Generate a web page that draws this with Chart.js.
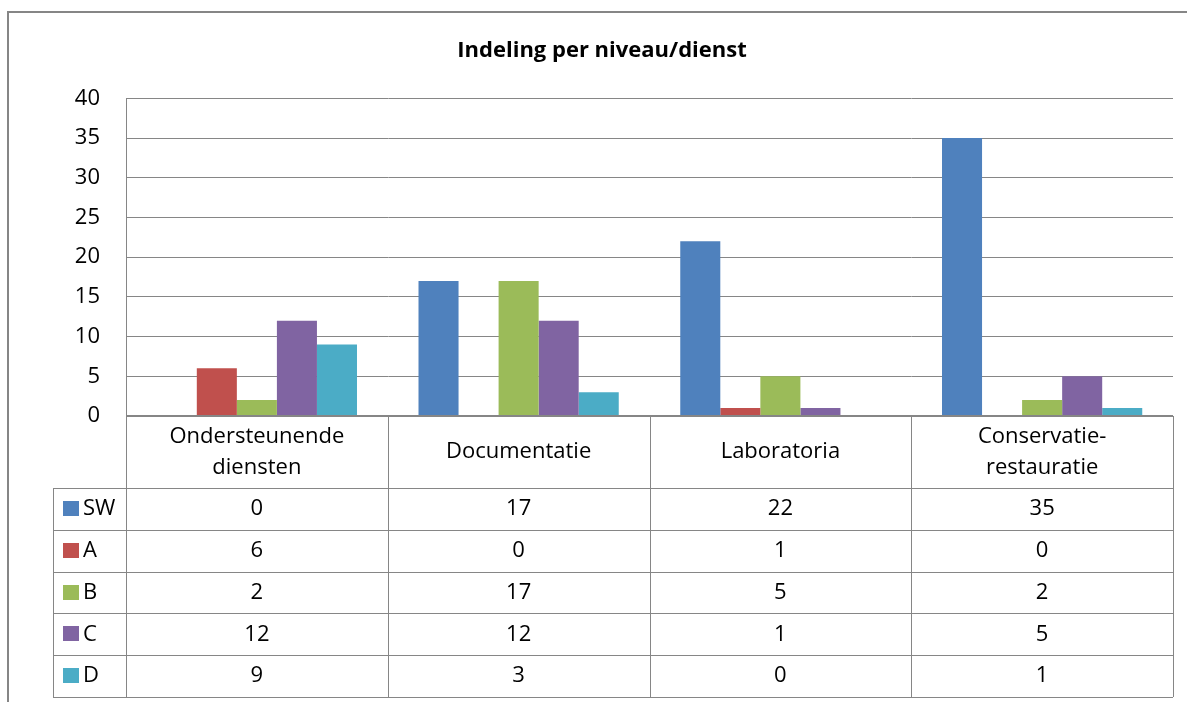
<!DOCTYPE html>
<html>
<head>
<meta charset="utf-8">
<script src="https://cdn.jsdelivr.net/npm/chart.js@4.4.0/dist/chart.umd.min.js"></script>
<style>
  body { margin: 0; background: #fff; }
  canvas { display: block; }
</style>
</head>
<body>
<canvas id="chart" width="1187" height="702"></canvas>
<script>
const categories = [['Ondersteunende', 'diensten'], 'Documentatie', 'Laboratoria', ['Conservatie-', 'restauratie']];
const seriesNames = ['SW', 'A', 'B', 'C', 'D'];
const swValues = [0, 17, 22, 35];
const aValues = [6, 0, 1, 0];
const bValues = [2, 17, 5, 2];
const cValues = [12, 12, 1, 5];
const dValues = [9, 3, 0, 1];
const yTicks = [0, 5, 10, 15, 20, 25, 30, 35, 40];

const colors = ['#4F81BD', '#C0504D', '#9BBB59', '#8064A2', '#4BACC6'];
const gridColor = '#868686';
const fontFamily = "'Open Sans', sans-serif";

// Excel-style data table under the plot, plus the outer frame
const dataTable = {
    id: 'dataTable',
    afterDraw(chart) {
        const ctx = chart.ctx;
        const area = chart.chartArea;
        const colW = area.width / categories.length;
        const headerTop = area.bottom;
        const headerH = 72;
        const rowH = 41.8;
        const keyLeft = 53;
        const tableBottom = headerTop + headerH + rowH * seriesNames.length;

        ctx.save();
        // frame
        ctx.strokeStyle = gridColor;
        ctx.lineWidth = 2;
        ctx.beginPath();
        ctx.moveTo(8, 702);
        ctx.lineTo(8, 12);
        ctx.lineTo(1187, 12);
        ctx.stroke();

        // table grid
        ctx.lineWidth = 1;
        ctx.beginPath();
        for (let i = 0; i <= categories.length; i++) {
            const x = Math.round(area.left + i * colW) + 0.5;
            ctx.moveTo(x, headerTop);
            ctx.lineTo(x, tableBottom);
        }
        ctx.moveTo(keyLeft + 0.5, headerTop + headerH);
        ctx.lineTo(keyLeft + 0.5, tableBottom);
        for (let r = 0; r <= seriesNames.length; r++) {
            const y = Math.round(headerTop + headerH + r * rowH) + 0.5;
            ctx.moveTo(keyLeft, y);
            ctx.lineTo(area.right, y);
        }
        ctx.stroke();
        // slightly heavier zero line
        ctx.lineWidth = 2;
        ctx.beginPath();
        ctx.moveTo(area.left, Math.round(headerTop));
        ctx.lineTo(area.right, Math.round(headerTop));
        ctx.stroke();

        ctx.fillStyle = '#000';
        ctx.font = '22px ' + fontFamily;
        ctx.textAlign = 'center';
        ctx.textBaseline = 'middle';
        // header labels
        categories.forEach((label, i) => {
            const cx = area.left + (i + 0.5) * colW;
            const lines = Array.isArray(label) ? label : [label];
            const lineH = 31;
            const cy = headerTop + headerH / 2 - (lines.length - 1) * lineH / 2;
            lines.forEach((t, j) => ctx.fillText(t, cx, cy + j * lineH));
        });

        // data rows
        chart.data.datasets.forEach((ds, r) => {
            const cy = headerTop + headerH + (r + 0.5) * rowH;
            ctx.fillStyle = ds.backgroundColor;
            ctx.fillRect(63, Math.round(cy - 8), 16, 15);
            ctx.fillStyle = '#000';
            ctx.textAlign = 'left';
            ctx.fillText(ds.label, 83, cy);
            ctx.textAlign = 'center';
            ds.data.forEach((v, i) => {
                ctx.fillText(String(v), area.left + (i + 0.5) * colW, cy);
            });
        });
        ctx.restore();
    }
};

const seriesValues = [swValues, aValues, bValues, cValues, dValues];

new Chart(document.getElementById('chart'), {
    type: 'bar',
    data: {
        labels: categories,
        datasets: seriesNames.map((name, i) => ({
            label: name,
            data: seriesValues[i],
            backgroundColor: colors[i],
            borderWidth: 0,
            categoryPercentage: 0.765,
            barPercentage: 1
        }))
    },
    options: {
        responsive: false,
        animation: false,
        devicePixelRatio: 1,
        layout: {
            padding: { left: 31, right: 14, top: 0, bottom: 286 }
        },
        plugins: {
            legend: { display: false },
            tooltip: { enabled: false },
            title: {
                display: true,
                text: 'Indeling per niveau/dienst',
                color: '#000',
                font: { family: fontFamily, size: 22, weight: 'bold' },
                padding: { top: 38, bottom: 34 }
            }
        },
        scales: {
            x: {
                display: false
            },
            y: {
                min: 0,
                max: 40,
                afterBuildTicks: (scale) => {
                    scale.ticks = yTicks.map(v => ({ value: v }));
                },
                afterFit: (scale) => {
                    scale.width = 95;
                },
                ticks: {
                    color: '#000',
                    padding: 26,
                    font: { family: fontFamily, size: 22 }
                },
                grid: {
                    color: gridColor,
                    drawTicks: false
                },
                border: { color: gridColor }
            }
        }
    },
    plugins: [dataTable]
});
</script>
</body>
</html>
